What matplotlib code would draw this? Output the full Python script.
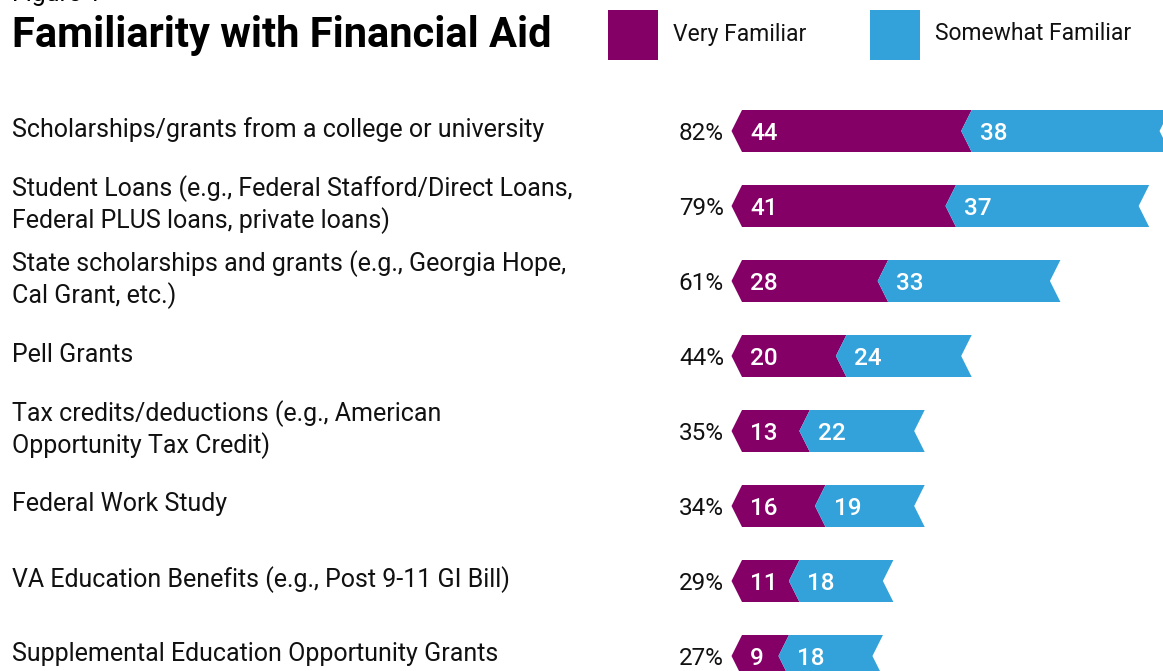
import matplotlib.pyplot as plt
from matplotlib.patches import Polygon
from matplotlib.transforms import blended_transform_factory

# Data
categories = [
    "Scholarships/grants from a college or university",
    "Student Loans (e.g., Federal Stafford/Direct Loans,\nFederal PLUS loans, private loans)",
    "State scholarships and grants (e.g., Georgia Hope,\nCal Grant, etc.)",
    "Pell Grants",
    "Tax credits/deductions (e.g., American\nOpportunity Tax Credit)",
    "Federal Work Study",
    "VA Education Benefits (e.g., Post 9-11 GI Bill)",
    "Supplemental Education Opportunity Grants",
]
very_familiar = [44, 41, 28, 20, 13, 16, 11, 9]
somewhat_familiar = [38, 37, 33, 24, 22, 19, 18, 18]
totals = [82, 79, 61, 44, 35, 34, 29, 27]

PURPLE = "#850066"
BLUE = "#33a2da"

W, H = 1163, 671
fig = plt.figure(figsize=(W / 100, H / 100), dpi=100)
plt.rcParams['font.family'] = ['Roboto', 'DejaVu Sans']

# axes covers whole figure; x in data units, y in row units
ax = fig.add_axes([0, 0, 1, 1])
px_per_unit = 5.22
x_origin = 742
row0, row_step = 131, 75
ax.set_xlim(-x_origin / px_per_unit, (W - x_origin) / px_per_unit)
ax.set_ylim((H - row0) / row_step, -row0 / row_step)
ax.axis("off")

bar_h = 42 / row_step
depth = 10.5 / px_per_unit


def chevron(x0, x1, yc, color):
    pts = [(x0 - depth, yc), (x0, yc - bar_h / 2), (x1, yc - bar_h / 2),
           (x1 - depth, yc), (x1, yc + bar_h / 2), (x0, yc + bar_h / 2)]
    ax.add_patch(Polygon(pts, closed=True, facecolor=color, edgecolor="none"))


pad = 8 / px_per_unit
dy = 2.5 / row_step
for i, (v, s, t) in enumerate(zip(very_familiar, somewhat_familiar, totals)):
    chevron(0, v, i, PURPLE)
    chevron(v, v + s, i, BLUE)
    ax.text(pad, i + dy, str(v), color="white", fontsize=17.5, fontweight="medium",
            va="center", ha="left")
    ax.text(v + pad, i + dy, str(s), color="white", fontsize=17.5, fontweight="medium",
            va="center", ha="left")
    ax.text(-18 / px_per_unit, i + dy, f"{t}%", color="#111111", fontsize=17.5,
            va="center", ha="right")

trans = blended_transform_factory(fig.transFigure, ax.transData)
for i, cat in enumerate(categories):
    ax.text(12 / W, i - 1.5 / row_step, cat, transform=trans, fontsize=18,
            va="center", ha="left", color="#111111", linespacing=1.25)

# title and legend
fig.text(12 / W, 1 - 6 / H, "Figure 1", fontsize=18, va="bottom", ha="left")
fig.text(12 / W, 1 - 36 / H, "Familiarity with Financial Aid", fontsize=30,
         fontweight="bold", va="center", ha="left", color="black")

for x0, color, label in [(608, PURPLE, "Very Familiar"), (870, BLUE, "Somewhat Familiar")]:
    fig.patches.append(plt.Rectangle((x0 / W, 1 - 60 / H), 50 / W, 50 / H,
                                     transform=fig.transFigure, facecolor=color,
                                     edgecolor="none"))
    fig.text((x0 + 65) / W, 1 - 34 / H, label, fontsize=16.5, va="center", ha="left",
             color="#111111")

fig.savefig("out.png", dpi=100)
